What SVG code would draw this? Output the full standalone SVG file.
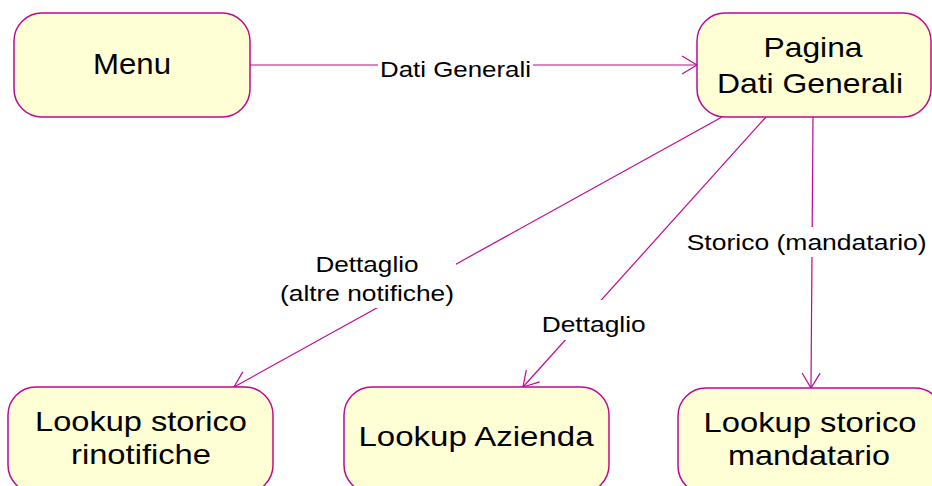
<svg xmlns="http://www.w3.org/2000/svg" width="932" height="486" viewBox="0 0 932 486">
<style>
.box{fill:#FFFFD6;stroke:#C0098F;stroke-width:1.5}
.t{font-family:"Liberation Sans",Arial,sans-serif;font-size:28px;fill:#000;text-anchor:middle}
.edge{stroke:#C0098F;stroke-width:1.2;fill:none}
.lbl{font-family:"Liberation Sans",Arial,sans-serif;font-size:22px;fill:#000;text-anchor:middle}
.bg{fill:#fff}
</style>
<defs>
<marker id="arr" viewBox="-18 -11 20 22" refX="0" refY="0" markerWidth="20" markerHeight="22" markerUnits="userSpaceOnUse" orient="auto">
<path d="M-15,-9 L0,0 L-15,9" fill="none" stroke="#C0098F" stroke-width="1.2"/>
</marker>
</defs>
<rect width="932" height="486" fill="#fff"/>
<g id="connectors">
<g id="e1">
<line class="edge" x1="250" y1="65" x2="697" y2="65" marker-end="url(#arr)"/>
<rect class="bg" x="378" y="56" width="155" height="26"/>
<text class="lbl" x="455.5" y="77" textLength="151" lengthAdjust="spacingAndGlyphs">Dati Generali</text>
</g>
<g id="e2">
<line class="edge" x1="722" y1="117" x2="234" y2="387" marker-end="url(#arr)"/>
<rect class="bg" x="278" y="249" width="178" height="59"/>
<text class="lbl" x="367" y="272" textLength="103" lengthAdjust="spacingAndGlyphs">Dettaglio</text>
<text class="lbl" x="367" y="300.5" textLength="174" lengthAdjust="spacingAndGlyphs">(altre notifiche)</text>
</g>
<g id="e3">
<line class="edge" x1="766" y1="117" x2="523" y2="387" marker-end="url(#arr)"/>
<rect class="bg" x="539" y="300" width="110" height="40"/>
<text class="lbl" x="593.7" y="332" textLength="104" lengthAdjust="spacingAndGlyphs">Dettaglio</text>
</g>
<g id="e4">
<line class="edge" x1="813" y1="117" x2="811" y2="388" marker-end="url(#arr)"/>
<rect class="bg" x="685" y="227" width="244" height="30"/>
<text class="lbl" x="806.7" y="250" textLength="240" lengthAdjust="spacingAndGlyphs">Storico (mandatario)</text>
</g>
</g>
<g id="menu">
<rect class="box" x="14" y="13" width="236" height="104" rx="28" ry="28"/>
<text class="t" x="132" y="74" font-size="30" style="font-size:30px" textLength="78" lengthAdjust="spacingAndGlyphs">Menu</text>
</g>
<g id="pagina">
<rect class="box" x="697" y="13" width="234" height="104" rx="28" ry="28"/>
<text class="t" x="813" y="57" textLength="99" lengthAdjust="spacingAndGlyphs">Pagina</text>
<text class="t" x="810" y="92.7" textLength="186" lengthAdjust="spacingAndGlyphs">Dati Generali</text>
</g>
<g id="rinotifiche">
<rect class="box" x="8" y="387" width="265" height="106" rx="28" ry="28"/>
<text class="t" x="141" y="431" textLength="212" lengthAdjust="spacingAndGlyphs">Lookup storico</text>
<text class="t" x="141" y="464" textLength="140" lengthAdjust="spacingAndGlyphs">rinotifiche</text>
</g>
<g id="azienda">
<rect class="box" x="344" y="387" width="265" height="106" rx="28" ry="28"/>
<text class="t" x="476" y="446" textLength="235" lengthAdjust="spacingAndGlyphs">Lookup Azienda</text>
</g>
<g id="mandatario">
<rect class="box" x="678" y="388" width="265" height="106" rx="28" ry="28"/>
<text class="t" x="810" y="431.5" textLength="213" lengthAdjust="spacingAndGlyphs">Lookup storico</text>
<text class="t" x="809" y="465" textLength="162" lengthAdjust="spacingAndGlyphs">mandatario</text>
</g>
</svg>
